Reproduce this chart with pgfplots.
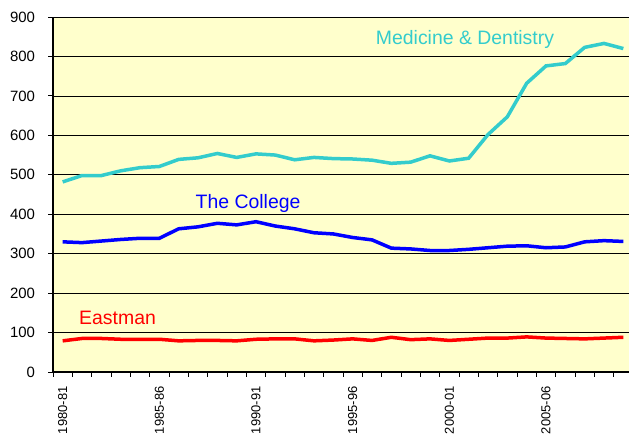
\documentclass[border=0pt]{standalone}
\usepackage{fontspec}
\setmainfont{Liberation Sans}
\usepackage{pgfplots}
\pgfplotsset{compat=1.18}
\definecolor{bgy}{HTML}{FFFFCC}
\definecolor{med}{HTML}{33CCCC}
\begin{document}
\begin{tikzpicture}
\begin{axis}[
  at={(0,0)}, anchor=south west,
  scale only axis, width=580bp, height=355bp,
  xmin=-0.5, xmax=29.5, ymin=0, ymax=900,
  axis background/.style={fill=bgy},
  axis lines*=left,
  axis line style={line width=1.4bp, black},
  ytick={0,100,...,900},
  ymajorgrids, grid style={black, line width=0.7bp},
  xtick={-0.5,0.5,...,29.5},
  xticklabels={},
  xtick style={black, line width=0.8bp},
  extra x ticks={0,5,10,15,20,25},
  extra x tick labels={1980-81,1985-86,1990-91,1995-96,2000-01,2005-06},
  extra x tick style={grid=none, major tick length=0pt,
    xticklabel style={font=\fontsize{13}{15}\selectfont, rotate=90, anchor=east}},
  tick align=outside,
  major tick length=4.5bp,
  ytick style={black, line width=0.8bp},
  /pgf/number format/assume math mode=true,
  yticklabel style={font=\fontsize{15}{17}\selectfont},
  yticklabel shift=10bp,
  xticklabel shift=11bp,
  clip=false,
]
\addplot[med, line width=3.5bp] coordinates {
(0,482)(1,498)(2,498)(3,510)(4,518)(5,521)(6,539)(7,543)(8,554)(9,544)
(10,553)(11,550)(12,538)(13,544)(14,541)(15,540)(16,537)(17,529)(18,532)(19,548)
(20,535)(21,542)(22,602)(23,647)(24,732)(25,776)(26,782)(27,823)(28,833)(29,820)};
\addplot[blue, line width=3.5bp] coordinates {
(0,330)(1,328)(2,332)(3,336)(4,339)(5,339)(6,363)(7,368)(8,377)(9,373)
(10,381)(11,370)(12,363)(13,353)(14,350)(15,341)(16,335)(17,314)(18,312)(19,308)
(20,308)(21,311)(22,315)(23,319)(24,320)(25,315)(26,317)(27,330)(28,333)(29,331)};
\addplot[red, line width=3.5bp] coordinates {
(0,79)(1,85)(2,85)(3,83)(4,83)(5,83)(6,79)(7,80)(8,80)(9,79)
(10,83)(11,84)(12,84)(13,79)(14,81)(15,84)(16,80)(17,88)(18,82)(19,84)
(20,80)(21,83)(22,86)(23,86)(24,89)(25,86)(26,85)(27,84)(28,86)(29,88)};
\node[med, font=\fontsize{19.5}{22}\selectfont] at (axis cs:20.81,842) {Medicine \& Dentistry};
\node[blue, font=\fontsize{19.5}{22}\selectfont] at (axis cs:9.59,426) {The College};
\node[red, font=\fontsize{19.5}{22}\selectfont] at (axis cs:2.84,137) {Eastman};
\end{axis}
\pgfresetboundingbox
\useasboundingbox (-53bp,-63bp) rectangle (576bp,372bp);
\end{tikzpicture}
\end{document}
